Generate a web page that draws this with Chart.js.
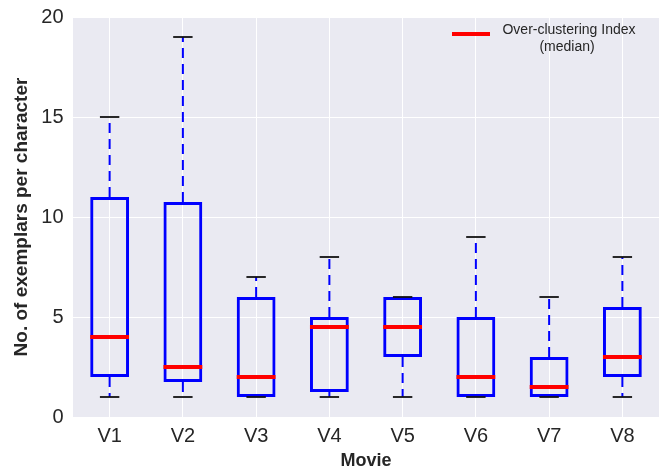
<!DOCTYPE html>
<html>
<head>
<meta charset="utf-8">
<script src="https://cdn.jsdelivr.net/npm/chart.js@4.4.1/dist/chart.umd.min.js"></script>
<style>
  html, body { margin: 0; padding: 0; background: #fff; overflow: hidden; }
  #wrap { width: 659px; height: 470px; }
</style>
</head>
<body>
<div id="wrap"><canvas id="chart" width="659" height="470"></canvas></div>
<script>
// Exemplars per character, one box per movie
const movies      = ['V1', 'V2', 'V3', 'V4', 'V5', 'V6', 'V7', 'V8'];
const whiskerLow  = [1, 1, 1, 1, 1, 1, 1, 1];
const quartile1   = [2, 1.75, 1, 1.25, 3, 1, 1, 2];
const medians     = [4, 2.5, 2, 4.5, 4.5, 2, 1.5, 3];
const quartile3   = [11, 10.75, 6, 5, 6, 5, 3, 5.5];
const whiskerHigh = [15, 19, 7, 8, 6, 9, 6, 8];
const yTicks      = [0, 5, 10, 15, 20];
const legendLines = ['Over-clustering Index', '(median)'];

const FONT = '"Liberation Sans", Arial, Helvetica, sans-serif';
const TEXT = '#262626';
const BLUE = '#0000ff';
const RED = '#ff0000';

// Whiskers, caps, medians, background and legend drawn around the bar boxes
const boxDecor = {
  id: 'boxDecor',
  beforeDraw(chart) {
    const { ctx, chartArea: a } = chart;
    ctx.save();
    ctx.fillStyle = '#eaeaf2';
    ctx.fillRect(a.left, a.top, a.right - a.left, a.bottom - a.top);
    ctx.restore();
  },
  beforeDatasetsDraw(chart) {
    const { ctx, scales: { x, y } } = chart;
    ctx.save();
    ctx.strokeStyle = BLUE;
    ctx.lineWidth = 2;
    ctx.setLineDash([10, 6]);
    movies.forEach((m, i) => {
      const px = x.getPixelForValue(i);
      if (whiskerHigh[i] > quartile3[i]) {
        ctx.beginPath();
        ctx.moveTo(px, y.getPixelForValue(quartile3[i]));
        ctx.lineTo(px, y.getPixelForValue(whiskerHigh[i]));
        ctx.stroke();
      }
      if (whiskerLow[i] < quartile1[i]) {
        ctx.beginPath();
        ctx.moveTo(px, y.getPixelForValue(quartile1[i]));
        ctx.lineTo(px, y.getPixelForValue(whiskerLow[i]));
        ctx.stroke();
      }
    });
    ctx.restore();
  },
  afterDatasetsDraw(chart) {
    const { ctx, scales: { x, y } } = chart;
    const bars = chart.getDatasetMeta(0).data;
    ctx.save();
    movies.forEach((m, i) => {
      const px = x.getPixelForValue(i);
      const half = bars[i].width / 2;
      // caps
      ctx.strokeStyle = '#111';
      ctx.lineWidth = 1.8;
      [whiskerLow[i], whiskerHigh[i]].forEach(v => {
        const py = y.getPixelForValue(v);
        ctx.beginPath();
        ctx.moveTo(px - half / 2, py);
        ctx.lineTo(px + half / 2, py);
        ctx.stroke();
      });
      // median
      const my = y.getPixelForValue(medians[i]);
      ctx.strokeStyle = RED;
      ctx.lineWidth = 4;
      ctx.beginPath();
      ctx.moveTo(px - half, my);
      ctx.lineTo(px + half, my);
      ctx.stroke();
    });

    // legend
    ctx.strokeStyle = RED;
    ctx.lineWidth = 4;
    ctx.beginPath();
    ctx.moveTo(452, 34);
    ctx.lineTo(490, 34);
    ctx.stroke();
    ctx.fillStyle = TEXT;
    ctx.font = '14px ' + FONT;
    ctx.textAlign = 'center';
    ctx.textBaseline = 'middle';
    ctx.fillText(legendLines[0], 569, 30);
    ctx.fillText(legendLines[1], 567, 47);
    ctx.restore();
  }
};

new Chart(document.getElementById('chart'), {
  type: 'bar',
  data: {
    labels: movies,
    datasets: [{
      label: 'IQR',
      data: quartile1.map((v, i) => [v, quartile3[i]]),
      backgroundColor: 'rgba(0,0,0,0)',
      borderColor: BLUE,
      borderWidth: 3,
      borderSkipped: false,
      barPercentage: 0.53,
      categoryPercentage: 1
    }]
  },
  options: {
    responsive: false,
    animation: false,
    devicePixelRatio: 1,
    layout: { padding: { top: 17, right: 0, bottom: 0, left: 0 } },
    plugins: {
      legend: { display: false },
      tooltip: { enabled: false }
    },
    scales: {
      x: {
        grid: { color: '#ffffff', lineWidth: 1, offset: false, drawTicks: false },
        border: { display: false },
        ticks: { color: TEXT, font: { family: FONT, size: 20 }, padding: 7 },
        title: {
          display: true, text: 'Movie', color: TEXT,
          font: { family: FONT, size: 18, weight: 'bold', lineHeight: 1 },
          padding: { top: 0, bottom: 0 }
        },
        afterFit(s) { s.height = 53; }
      },
      y: {
        min: 0,
        max: 20,
        afterBuildTicks(s) { s.ticks = yTicks.map(v => ({ value: v })); },
        grid: { color: '#ffffff', lineWidth: 1, drawTicks: false },
        border: { display: false },
        ticks: { color: TEXT, font: { family: FONT, size: 20 }, padding: 9.5 },
        title: {
          display: true, text: 'No. of exemplars per character', color: TEXT,
          font: { family: FONT, size: 19, weight: 'bold', lineHeight: 1.2 },
          padding: { top: 10, bottom: 0 }
        },
        afterFit(s) {
          s.width = 73;
          s.paddingTop = 0;
          s.paddingBottom = 0;
        }
      }
    }
  },
  plugins: [boxDecor]
});
</script>
</body>
</html>
